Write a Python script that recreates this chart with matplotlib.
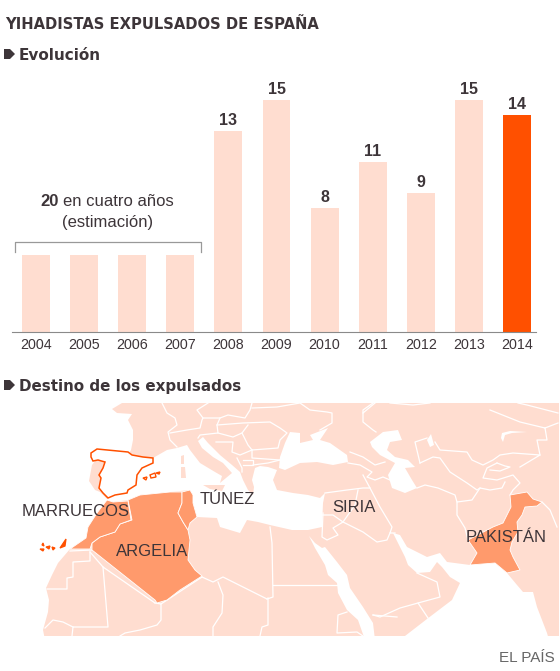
import matplotlib
matplotlib.use('Agg')
import matplotlib.pyplot as plt
from matplotlib.patches import Polygon, Rectangle

# bar data
years = ['2004', '2005', '2006', '2007', '2008', '2009', '2010', '2011', '2012', '2013', '2014']
expelled = [5, 5, 5, 5, 13, 15, 8, 11, 9, 15, 14]
shown_labels = ['', '', '', '', '13', '15', '8', '11', '9', '15', '14']

PEACH = '#ffddd0'
ORANGE = '#ff5000'
MAP_ORANGE = '#ff9a6c'
DARK = '#3d3539'

# map outlines, in picture pixels
atlantic = [(0, 400), (122, 400), (122, 403), (112, 409), (117, 413), (132, 414), (128, 420), (133, 430),
            (133, 440), (131, 450), (128, 455), (100, 455), (92, 465), (89, 481), (95, 490), (100, 492),
            (108, 500), (97, 513), (88, 527), (86, 538), (70, 549), (58, 563), (52, 575), (46, 588),
            (49, 600), (48, 612), (43, 630), (45, 640), (0, 640)]
mediterranean = [(120, 470), (153, 458), (167, 450), (177, 448), (187, 445), (190, 450), (200, 463),
                 (215, 472), (222, 476), (220, 483), (226, 478), (232, 473), (223, 463), (213, 457),
                 (202, 448), (198, 441), (203, 437), (208, 443), (220, 455), (232, 465), (240, 472),
                 (243, 480), (248, 490), (253, 495), (254, 487), (252, 480), (255, 468), (260, 466),
                 (268, 467), (277, 470), (273, 480), (277, 490), (293, 493), (308, 495), (320, 498),
                 (325, 493), (323, 503), (322, 527), (308, 530), (292, 530), (270, 525), (258, 522),
                 (247, 520), (240, 533), (220, 527), (217, 518), (197, 517), (193, 503), (193, 495),
                 (190, 490), (170, 492), (140, 495), (128, 500), (113, 502), (107, 500), (110, 480)]
sicily = [(203, 485), (225, 485), (222, 491), (210, 489)]
corsica = [(181, 456), (184, 455), (184, 464), (181, 464)]
sardinia = [(181, 467), (185, 467), (186, 478), (181, 478)]
black_sea = [(280, 457), (285, 443), (290, 432), (300, 433), (300, 443), (313, 440), (310, 435),
             (328, 428), (320, 440), (330, 443), (347, 455), (348, 462), (333, 465), (317, 462),
             (300, 463), (285, 470), (279, 468)]
caspian = [(370, 442), (383, 432), (398, 430), (402, 440), (390, 442), (387, 450), (395, 457), (408, 460),
           (415, 467), (405, 468), (412, 480), (417, 488), (405, 493), (392, 488), (388, 475), (395, 463),
           (380, 455), (372, 447)]
aral = [(427, 440), (431, 434), (434, 445), (430, 447)]
balkhash = [(502, 433), (510, 431), (527, 432), (512, 433), (505, 435), (503, 442), (501, 438)]
red_sea = [(309, 536), (315, 543), (322, 548), (325, 547), (337, 562), (347, 575), (350, 588), (363, 607),
           (373, 623), (375, 640), (365, 640), (358, 620), (347, 610), (338, 593), (337, 583), (328, 575),
           (325, 565), (315, 548)]
indian_ocean = [(393, 533), (400, 535), (407, 547), (413, 550), (427, 557), (440, 553), (447, 562),
                (470, 565), (495, 563), (507, 573), (517, 585), (523, 592), (533, 592), (537, 607),
                (547, 633), (549, 640), (400, 640), (405, 636), (427, 619), (452, 600), (460, 583),
                (450, 577), (442, 567), (437, 562), (430, 572), (417, 573), (408, 565), (405, 557)]
white_areas = [atlantic, mediterranean, black_sea, caspian, aral, balkhash, red_sea, indian_ocean]
peach_islands = [sicily, corsica, sardinia]

spain = [(91, 453), (97, 449), (128, 452), (132, 455), (143, 457), (153, 458), (153, 463), (142, 468),
         (137, 475), (136, 485), (128, 490), (127, 493), (115, 495), (108, 498), (103, 493), (99, 488),
         (101, 478), (99, 475), (103, 468), (105, 462), (98, 460), (93, 461), (91, 457)]
balearic = [[(143, 478), (147, 477), (146, 480)], [(150, 475), (155, 473), (156, 477), (151, 478)],
            [(156, 473), (160, 472), (159, 474)]]
canary = [[(40, 549), (44, 549), (43, 551)], [(46, 547), (50, 546), (49, 549)], [(52, 547), (55, 548), (53, 550)],
          [(60, 548), (64, 542), (66, 539), (65, 546)], [(42, 545), (43, 543), (44, 546)]]
algeria = [(128, 500), (140, 495), (170, 492), (182, 492), (182, 503), (178, 513), (183, 522), (188, 530),
           (190, 540), (188, 560), (195, 570), (202, 576), (180, 590), (167, 600), (157, 603), (155, 600),
           (92, 550), (92, 543), (100, 537), (115, 532), (120, 524), (132, 520)]
morocco = [(107, 500), (113, 502), (128, 501), (131, 520), (120, 524), (115, 532), (100, 537), (92, 543),
           (90, 549), (70, 549), (86, 538), (88, 527), (97, 513)]
tunisia = [(182, 492), (190, 490), (193, 495), (193, 503), (197, 517), (190, 523), (188, 530), (183, 522),
           (178, 513), (182, 503)]
pakistan = [(510, 495), (527, 492), (533, 499), (542, 502), (537, 506), (525, 507), (522, 515), (517, 522),
            (518, 532), (512, 542), (510, 550), (513, 557), (520, 570), (507, 573), (495, 563), (470, 565),
            (477, 553), (468, 540), (493, 527), (503, 523), (507, 515), (511, 507)]
target_countries = [algeria, morocco, tunisia, pakistan]

borders = [
    [(162, 403), (167, 413), (175, 418), (177, 425), (168, 432), (170, 440), (177, 447)],
    [(170, 433), (187, 430), (200, 428), (202, 420), (203, 418), (197, 410), (208, 403)],
    [(203, 418), (220, 418), (228, 415), (245, 418), (250, 410), (252, 403)],
    [(220, 418), (217, 425), (218, 433), (200, 435), (198, 438)],
    [(217, 425), (243, 423), (270, 422), (280, 428), (287, 433), (280, 440), (278, 448), (252, 450),
     (248, 445), (242, 433), (248, 425)],
    [(218, 433), (233, 437), (242, 433)], [(216, 442), (233, 442), (232, 452), (240, 455), (252, 450)],
    [(252, 450), (252, 458), (280, 460)], [(237, 458), (242, 468), (242, 472)],
    [(243, 460), (253, 460), (253, 465), (243, 465)], [(253, 465), (268, 463), (280, 460)],
    [(252, 408), (277, 407), (300, 403), (310, 410), (327, 412), (332, 413), (332, 423), (320, 430)],
    [(373, 403), (363, 410), (363, 422), (373, 430), (376, 432)],
    [(350, 452), (363, 457), (375, 465), (385, 462)],
    [(348, 463), (360, 465), (372, 472), (367, 477), (375, 480), (383, 477), (390, 480)],
    [(363, 475), (370, 488), (380, 507), (392, 527), (390, 533), (395, 533)],
    [(325, 493), (347, 490), (363, 488), (370, 488)], [(358, 490), (355, 505), (343, 522)],
    [(322, 515), (333, 515), (343, 522), (363, 532), (377, 542), (387, 540), (390, 533)],
    [(323, 513), (322, 537), (327, 540), (338, 535), (333, 528), (343, 522)],
    [(417, 573), (437, 582), (440, 597), (418, 603), (428, 618)],
    [(373, 615), (380, 617), (400, 608), (418, 603)], [(373, 615), (397, 617)],
    [(273, 585), (337, 585)], [(270, 527), (272, 543), (273, 597), (267, 599)],
    [(202, 577), (213, 582), (223, 577), (267, 599)],
    [(218, 582), (223, 595), (222, 613), (213, 627), (213, 636)],
    [(268, 598), (268, 625), (262, 627), (260, 636)],
    [(347, 612), (338, 615), (337, 633), (357, 632), (363, 636)],
    [(92, 550), (70, 551)], [(90, 552), (90, 561), (73, 562), (73, 577), (67, 578), (67, 589), (47, 589)],
    [(103, 567), (108, 627), (73, 627), (72, 636)], [(90, 552), (103, 567), (155, 603)],
    [(73, 627), (63, 622), (53, 620), (45, 628)],
    [(155, 603), (161, 604), (161, 620), (157, 625), (140, 630), (125, 633), (120, 636)],
    [(161, 604), (202, 577)],
    [(390, 403), (413, 405), (430, 403)], [(363, 413), (375, 403)],
    [(518, 403), (527, 405), (558, 413)],
    [(420, 463), (415, 442), (427, 438)], [(420, 463), (433, 457), (440, 458), (450, 472), (467, 483),
                                           (477, 490), (480, 488)],
    [(435, 442), (440, 450), (467, 452), (472, 460), (483, 465), (493, 460), (500, 455), (513, 453),
     (540, 455), (520, 467)],
    [(545, 428), (547, 440), (537, 440), (540, 455)], [(545, 428), (558, 423)], [(490, 410), (520, 422), (545, 428)],
    [(497, 463), (487, 468), (483, 478), (497, 480), (513, 475), (520, 483), (513, 490), (510, 495)],
    [(497, 463), (505, 466), (510, 467), (500, 471), (490, 470)],
    [(417, 488), (425, 485), (438, 488), (455, 495), (457, 502), (472, 500), (480, 488), (490, 490),
     (502, 488), (505, 482)],
    [(457, 502), (457, 515), (465, 528), (468, 540)],
    [(542, 502), (550, 510), (557, 527)],
]

fig = plt.figure(figsize=(5.6, 6.71), dpi=100)
W, H = 560.0, 671.0

# bar chart, placed to sit on the pixels of the reference
ax = fig.add_axes([12 / W, 1 - 332 / H, 524 / W, 242 / H])
xs = list(range(len(years)))
colors = [PEACH] * 10 + [ORANGE]
ax.bar(xs, expelled, width=0.582, color=colors)
ax.set_xlim(-0.499, 10.395)
ax.set_ylim(0, 242 / 15.5)
for s in ['top', 'left', 'right']:
    ax.spines[s].set_visible(False)
ax.spines['bottom'].set_color('#8a8a8a')
ax.spines['bottom'].set_linewidth(0.8)
ax.set_yticks([])
ax.set_xticks(xs)
ax.set_xticklabels(years, family='Liberation Sans', fontsize=10.3, color=DARK)
ax.tick_params(axis='x', length=0, pad=4)
for x, v, t in zip(xs, expelled, shown_labels):
    ax.annotate(t, (x, v), xytext=(0, 2), textcoords='offset points', ha='center', va='bottom',
                family='Liberation Sans', fontweight='bold', fontsize=11.5, color=DARK)

# overlay in pixels for the headings and the map
ov = fig.add_axes([0, 0, 1, 1], zorder=-1)
ov.set_xlim(0, W)
ov.set_ylim(H, 0)
ov.axis('off')
top = fig.add_axes([0, 0, 1, 1], zorder=5)
top.set_xlim(0, W)
top.set_ylim(H, 0)
top.axis('off')

clip = Rectangle((0, 403), 559, 233, transform=ov.transData)
land = Rectangle((0, 403), 559, 233, facecolor=PEACH, edgecolor='none', zorder=1)
ov.add_patch(land)
for poly in white_areas:
    p = Polygon(poly, closed=True, facecolor='white', edgecolor='none', zorder=2)
    ov.add_patch(p)
    p.set_clip_path(clip)
for poly in peach_islands:
    ov.add_patch(Polygon(poly, closed=True, facecolor=PEACH, edgecolor='none', zorder=3))
for line in borders:
    xv, yv = zip(*line)
    ov.plot(xv, yv, color='white', lw=0.9, zorder=4, solid_joinstyle='round')
for poly in target_countries:
    ov.add_patch(Polygon(poly, closed=True, facecolor=MAP_ORANGE, edgecolor='white', lw=0.6, zorder=5))
ov.add_patch(Polygon(spain, closed=True, facecolor='white', edgecolor=ORANGE, lw=1.1, zorder=6))
for poly in balearic:
    ov.add_patch(Polygon(poly, closed=True, facecolor='white', edgecolor=ORANGE, lw=1.0, zorder=6))
for poly in canary:
    ov.add_patch(Polygon(poly, closed=True, facecolor=ORANGE, edgecolor=ORANGE, lw=0.9, zorder=6))

# headings
top.text(5, 24.5, 'YIHADISTAS EXPULSADOS DE ESPAÑA', family='DejaVu Sans', fontweight='bold',
         fontsize=10.6, color=DARK, va='center')
top.text(19, 55.5, 'Evolución', family='DejaVu Sans', fontweight='bold', fontsize=11, color=DARK, va='center')
top.text(19, 386.5, 'Destino de los expulsados', family='DejaVu Sans', fontweight='bold', fontsize=10.9,
         color=DARK, va='center')
for y in [54, 385]:
    top.add_patch(Polygon([(4, y - 5), (10, y - 5), (15, y), (10, y + 5), (4, y + 5)], closed=True,
                          facecolor=DARK, edgecolor='none'))

# bracket over the estimated years
top.plot([15, 15, 201, 201], [252, 242, 242, 252], color='#999999', lw=0.9)
top.text(40, 201, '20', family='Liberation Sans', fontweight='bold', fontsize=12, color=DARK, va='center')
top.text(63, 201, 'en cuatro años', family='Liberation Sans', fontsize=12, color=DARK, va='center')
top.text(108, 223, '(estimación)', family='Liberation Sans', fontsize=12, color=DARK, va='center', ha='center')

# country labels
for name, x, y in [('MARRUECOS', 76, 511), ('TÚNEZ', 227, 499), ('ARGELIA', 152, 552),
                   ('SIRIA', 354, 508), ('PAKISTÁN', 506, 538)]:
    top.text(x, y, name, family='Liberation Sans', fontsize=12, color=DARK, ha='center', va='center')
top.text(555, 658, 'EL PAÍS', family='Liberation Sans', fontsize=11, color='#666666', ha='right', va='center')

fig.savefig('out.png', dpi=100)
